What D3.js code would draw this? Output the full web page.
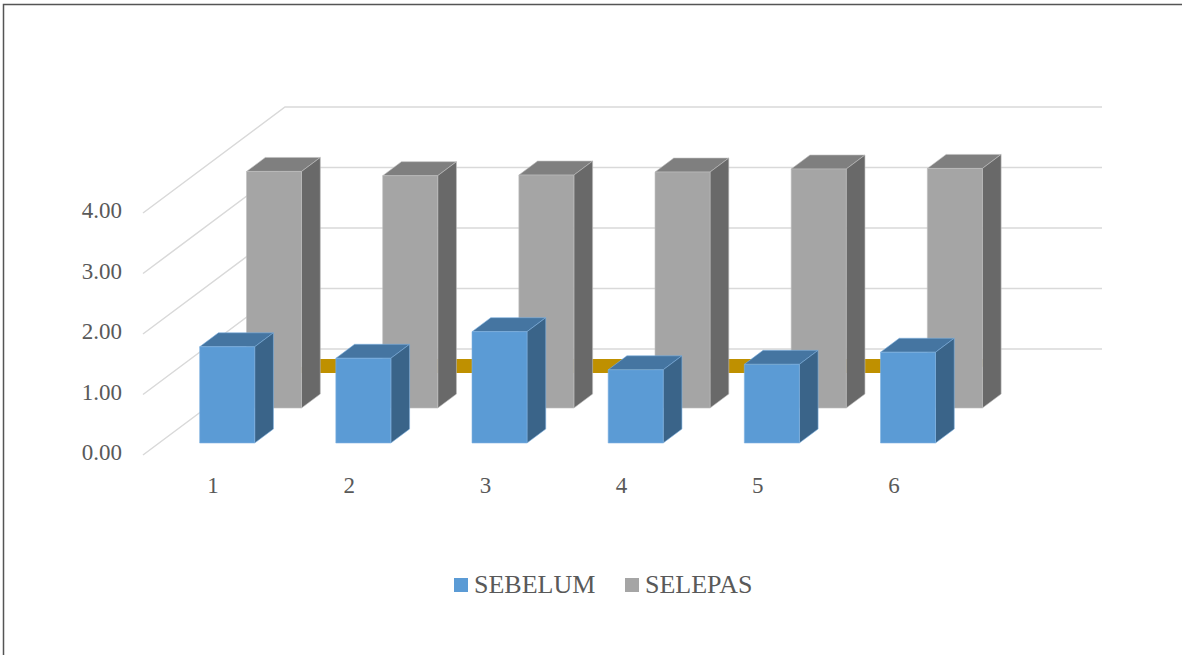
<!DOCTYPE html>
<html><head><meta charset="utf-8">
<script src="https://cdn.jsdelivr.net/npm/d3@7"></script>
<style>html,body{margin:0;padding:0;background:#fff;overflow:hidden}</style>
</head><body><svg id="c" width="1182" height="655"></svg>
<script>
// ---- data ----
const categories = ["1","2","3","4","5","6"];
const seriesNames = ["SEBELUM","SELEPAS"];
const sebelum = [1.59,1.40,1.84,1.21,1.30,1.50];
const selepas = [3.91,3.84,3.85,3.90,3.95,3.96];
const series3 = [0,0,0,0,0,0];
const yTicks = [0,1,2,3,4];
const yTickLabels = ["0.00","1.00","2.00","3.00","4.00"];

// ---- layout ----
const svg = d3.select("#c");
const font = "'Liberation Serif','Times New Roman',serif";
const textColor = "#595959";
const depthY = 106, depthX = 142, kx = depthX/depthY;

const x = d3.scaleBand().domain(categories).range([143, 960])
  .paddingInner(0.596).paddingOuter(0.298);
const y = d3.scaleLinear().domain([0,4]).range([455, 213]);
const z = d3.scaleBand().domain(["SEBELUM","SELEPAS","S3"]).range([0, depthY])
  .paddingInner(0.6).paddingOuter(0.315).align(0.545);

const P = (px, py, d) => [px + d*kx, py - d];
const poly = pts => "M" + pts.map(p => p.join(",")).join("L") + "Z";

// frame
svg.append("path").attr("d","M3.5,655V4.5H1182").attr("fill","none")
  .attr("stroke","#555").attr("stroke-width",1.5);

// gridlines: left wall diagonals + back wall
const g = svg.append("g");
const [fx0, fx1] = x.range();
yTicks.forEach(v => {
  const a = P(fx0, y(v), 0), b = P(fx0, y(v), depthY), c = P(fx1, y(v), depthY);
  g.append("path").attr("d", `M${a}L${b}L${c}`).attr("fill","none")
    .attr("stroke","#d9d9d9").attr("stroke-width",1.5);
});

// axis labels
svg.append("g").selectAll("text").data(yTicks).join("text")
  .attr("x", 122).attr("y", v => y(v) - 3).attr("dy","0.35em")
  .attr("text-anchor","end").attr("font-family",font).attr("font-size",23)
  .attr("fill",textColor).text((v,i) => yTickLabels[i]);

svg.append("g").selectAll("text").data(categories).join("text")
  .attr("x", c => x(c) + x.bandwidth()/2 + 2).attr("y", 493)
  .attr("text-anchor","middle").attr("font-family",font).attr("font-size",23)
  .attr("fill",textColor).text(c => c);

// third series ribbon (zero values) in back row
{
  const d0 = z("S3"), d1 = d0 + z.bandwidth();
  const xa = x(categories[0]), xb = x(categories[categories.length-1]);
  const yv0 = y(d3.max(series3));
  svg.append("path").attr("d", poly([P(xa,yv0,d0),P(xb,yv0,d0),P(xb,yv0,d1),P(xa,yv0,d1)]))
    .attr("fill","#bf9000");
}

function bars(vals, row, cFront, cTop, cSide, edge){
  const gg = svg.append("g");
  const d0 = z(row), d1 = d0 + z.bandwidth();
  categories.forEach((c,i) => {
    const x0 = x(c), x1 = x0 + x.bandwidth();
    const yb = y(0), yt = y(vals[i]);
    gg.append("path").attr("d", poly([P(x0,yt,d0),P(x1,yt,d0),P(x1,yt,d1),P(x0,yt,d1)]))
      .attr("fill",cTop).attr("stroke",edge).attr("stroke-width",0.6);
    gg.append("path").attr("d", poly([P(x1,yt,d0),P(x1,yt,d1),P(x1,yb,d1),P(x1,yb,d0)]))
      .attr("fill",cSide).attr("stroke",edge).attr("stroke-width",0.6);
    gg.append("path").attr("d", poly([P(x0,yt,d0),P(x1,yt,d0),P(x1,yb,d0),P(x0,yb,d0)]))
      .attr("fill",cFront).attr("stroke",edge).attr("stroke-width",0.6);
  });
}
bars(selepas, "SELEPAS", "#a5a5a5", "#7f7f7f", "#696969", "#bdbdbd");
bars(sebelum, "SEBELUM", "#5b9bd5", "#4575a1", "#3a6489", "#7fb2e0");

// legend
const legendColors = ["#5b9bd5","#a5a5a5"];
const legendX = [454, 625];
seriesNames.forEach((s,i) => {
  svg.append("rect").attr("x",legendX[i]).attr("y",578).attr("width",14).attr("height",14)
    .attr("fill",legendColors[i]);
  svg.append("text").attr("x",legendX[i]+20).attr("y",593)
    .attr("font-family",font).attr("font-size",26).attr("fill",textColor).text(s);
});
</script>
</body></html>
